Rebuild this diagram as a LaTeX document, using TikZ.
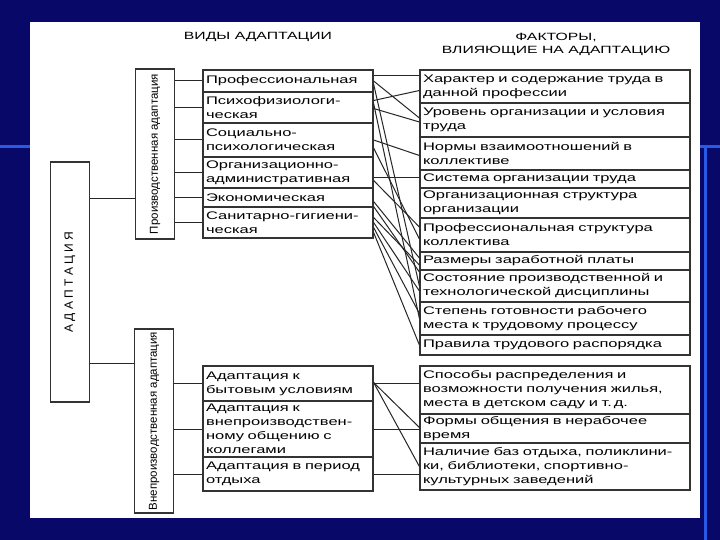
\documentclass[tikz,border=0pt]{standalone}
\usepackage{fontspec}
\usepackage{graphicx}
\setmainfont{Liberation Sans}[FakeStretch=1.5]
\newfontfamily\narrowsf{Liberation Sans}
\usetikzlibrary{positioning}
\definecolor{navy}{RGB}{8,8,104}
\definecolor{slideblue}{RGB}{40,90,230}
\tikzset{
  fbox/.style={draw=black!80, line width=1.2pt, inner xsep=3pt, inner ysep=1pt, align=left,
    font=\fontsize{11}{14}\selectfont},
  lbox/.style={fbox, text width=164pt, minimum width=170pt},
  rbox/.style={fbox, text width=264pt, minimum width=270pt},
  vbox/.style={draw=black!80, line width=1.2pt, minimum width=39pt, inner sep=0pt,
    font=\narrowsf\fontsize{11.5}{13}\selectfont},
  link/.style={draw=black!85, line width=1pt},
  head/.style={font=\fontsize{10.5}{13}\selectfont, align=center}
}

\begin{document}
\begin{tikzpicture}[x=1pt,y=-1pt]
\useasboundingbox (0,0) rectangle (720,540);
\fill[navy] (0,0) rectangle (720,540);
\draw[slideblue, line width=3pt] (0,147) -- (30,147);
\draw[slideblue, line width=3pt] (700,147) -- (720,147);
\draw[slideblue, line width=3pt] (705,147) -- (705,540);
\fill[white] (30,22) rectangle (700,518);

% headers
\node[head] (hdl) at (258,37) {ВИДЫ АДАПТАЦИИ};
\node[head] (hdr) at (556,44) {ФАКТОРЫ,\\ВЛИЯЮЩИЕ НА АДАПТАЦИЮ};

% left column
\node[vbox, minimum height=240pt, font=\narrowsf\fontsize{12}{14}\selectfont] (adapt) at (70,282) {\rotatebox{90}{А Д А П Т А Ц И Я}};
\node[vbox, minimum height=170pt] (prod) at (155,154) {\rotatebox{90}{Производственная адаптация}};
\node[vbox, minimum height=184pt] (nonprod) at (154,421) {\rotatebox{90}{Внепроизводственная адаптация}};

% kinds of adaptation
\node[lbox, minimum height=22pt] (l1) at (288,81) {Профессиональная};
\node[lbox, minimum height=31pt] (l2) at (288,107.5) {Психофизиологи-\\ческая};
\node[lbox, minimum height=34pt] (l3) at (288,140) {Социально-\\психологическая};
\node[lbox, minimum height=31pt] (l4) at (288,172.5) {Организационно-\\административная};
\node[lbox, minimum height=19pt] (l5) at (288,197.5) {Экономическая};
\node[lbox, minimum height=31pt] (l6) at (288,222.5) {Санитарно-гигиени-\\ческая};

\node[lbox, minimum height=35pt] (m1) at (288,383.5) {Адаптация к\\бытовым условиям};
\node[lbox, minimum height=56pt] (m2) at (288,429) {Адаптация к\\внепроизводствен-\\ному общению с\\коллегами};
\node[lbox, minimum height=34pt] (m3) at (288,474) {Адаптация в период\\отдыха};

% factors
\node[rbox, minimum height=33pt] (r1) at (555,86.5) {Характер и содержание труда в\\данной профессии};
\node[rbox, minimum height=34pt] (r2) at (555,120) {Уровень организации и условия\\труда};
\node[rbox, minimum height=33pt] (r3) at (555,153.5) {Нормы взаимоотношений в\\коллективе};
\node[rbox, minimum height=18pt] (r4) at (555,179) {Система организации труда};
\node[rbox, minimum height=30pt] (r5) at (555,203) {Организационная структура\\организации};
\node[rbox, minimum height=34pt] (r6) at (555,235) {Профессиональная структура\\коллектива};
\node[rbox, minimum height=18pt] (r7) at (555,261) {Размеры заработной платы};
\node[rbox, minimum height=32pt] (r8) at (555,286) {Состояние производственной и\\технологической дисциплины};
\node[rbox, minimum height=33pt] (r9) at (555,318.5) {Степень готовности рабочего\\места к трудовому процессу};
\node[rbox, minimum height=20pt] (r10) at (555,345) {Правила трудового распорядка};

\node[rbox, minimum height=48pt] (f1) at (555,390) {Способы распределения и\\возможности получения жилья,\\места в детском саду и т.\,д.};
\node[rbox, minimum height=29pt] (f2) at (555,428.5) {Формы общения в нерабочее\\время};
\node[rbox, minimum height=47pt] (f3) at (555,466.5) {Наличие баз отдыха, поликлини-\\ки, библиотеки, спортивно-\\культурных заведений};

% tree
\draw[link] ([yshift=-45pt]prod.west) coordinate (pa) -- (pa -| adapt.east);
\draw[link] ([yshift=58pt]nonprod.west) coordinate (na) -- (na -| adapt.east);
\foreach \k in {l1,l2,l3,l4,l5,l6}
  \draw[link] (\k.west -| prod.east) -- (\k.west);
\foreach \k in {m1,m2,m3}
  \draw[link] (\k.west -| nonprod.east) -- (\k.west);

% kinds to factors
\draw[link] ([yshift=5pt]l1.east) -- ([yshift=10.5pt]r1.west);
\draw[link] (l1.east) -- ([yshift=2pt]r2.west);
\draw[link] ([yshift=-3pt]l1.east) -- (r8.west);
\draw[link] ([yshift=7pt]l2.east) -- ([yshift=-4pt]r1.west);
\draw[link] ([yshift=-1pt]l2.east) -- ([yshift=-2pt]r2.west);
\draw[link] ([yshift=4pt]l2.east) -- (r9.west);
\draw[link] (l3.east) -- ([yshift=-2pt]r3.west);
\draw[link] ([yshift=-8pt]l3.east) -- ([yshift=-4pt]r6.west);
\draw[link] ([yshift=-5.5pt]l4.east) -- ([yshift=1pt]r4.west);
\draw[link] ([yshift=-8pt]l4.east) -- ([yshift=8pt]r6.west);
\draw[link] ([yshift=-4pt]l5.east) -- ([yshift=3pt]r7.west);
\draw[link] ([yshift=-9pt]l5.east) -- ([yshift=14pt]r8.west);
\draw[link] ([yshift=5pt]l6.east) -- ([yshift=-4pt]r7.west);
\draw[link] (l6.east) -- ([yshift=-5pt]r8.west);
\draw[link] ([yshift=-5pt]l6.east) -- ([yshift=5pt]r9.west);
\draw[link] ([yshift=-10pt]l6.east) -- (r10.west);

\draw[link] (m1.east) -- (m1.east -| f1.west);
\draw[link] (m2.east) -- (m2.east -| f2.west);
\draw[link] (m3.east) -- (m3.east -| f3.west);
\draw[link] ([yshift=1pt]m1.east) -- ([yshift=1pt]f2.west);
\draw[link] ([yshift=1pt]m1.east) -- (f3.west);
\end{tikzpicture}
\end{document}
